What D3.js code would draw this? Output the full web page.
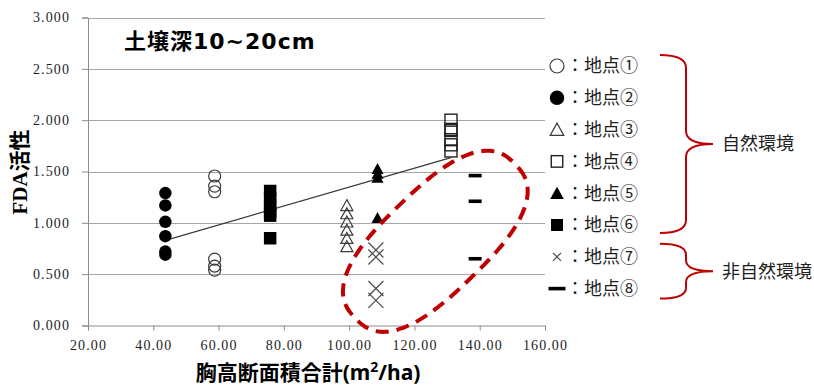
<!DOCTYPE html>
<html>
<head>
<meta charset="utf-8">
<script src="https://cdn.jsdelivr.net/npm/d3@7"></script>
<style>
  body { margin: 0; background: #fff; }
  svg { display: block; }
</style>
</head>
<body>
<div id="chart"></div>
<script>
// data
const sites = ["地点①", "地点②", "地点③", "地点④", "地点⑤", "地点⑥", "地点⑦", "地点⑧"];
const siteMarker = ["circleOpen", "circle", "triangleOpen", "squareOpen", "triangle", "square", "cross", "dash"];
const siteBasal = [58.8, 43.7, 99.3, 131.2, 108.7, 75.8, 108.2, 138.6];
const siteFDA = [
  [1.456, 1.358, 1.303, 0.647, 0.579, 0.540],
  [1.29, 1.17, 1.01, 0.87, 0.72, 0.69],
  [1.17, 1.09, 1.01, 0.93, 0.85, 0.77],
  [2.00, 1.91, 1.90, 1.81, 1.76, 1.70],
  [1.526, 1.48, 1.44, 1.05],
  [1.31, 1.24, 1.17, 1.11, 1.07, 0.85],
  [0.735, 0.667, 0.36, 0.245],
  [1.46, 1.21, 0.65]
];
const trendX = [43.7, 131.2];
const trendY = [0.83, 1.635];
const xTicks = [20, 40, 60, 80, 100, 120, 140, 160];
const yTicks = [0, 0.5, 1, 1.5, 2, 2.5, 3];
const groupLabels = ["自然環境", "非自然環境"];
const groupRange = [[0, 5], [6, 7]];
const circledCenter = [126.4, 0.82];   // centre of the red dashed loop (data units)

const width = 814, height = 386;
const plot = {left: 88, right: 545, top: 17.5, bottom: 325.5};
const red = "#c00000";

const svg = d3.select("#chart").append("svg")
    .attr("width", width)
    .attr("height", height);

const x = d3.scaleLinear().domain([20, 160]).range([plot.left, plot.right]);
const y = d3.scaleLinear().domain([0, 3]).range([plot.bottom, plot.top]);

// gridlines
svg.append("g")
  .selectAll("line")
  .data(yTicks.filter(d => d > 0))
  .enter().append("line")
    .attr("x1", plot.left).attr("x2", plot.right)
    .attr("y1", d => Math.round(y(d)) + 0.5).attr("y2", d => Math.round(y(d)) + 0.5)
    .attr("stroke", "#a6a6a6")
    .attr("stroke-width", 1);

// axes
const xAxis = g => g
  .attr("transform", `translate(0,${plot.bottom})`)
  .call(d3.axisBottom(x).tickValues(xTicks).tickFormat(d3.format(".2f")).tickSize(5).tickPadding(10))
  .call(g => g.selectAll("line, path").attr("stroke", "#8c8c8c"))
  .call(g => g.selectAll("text")
      .style("font-family", "'Liberation Serif', serif")
      .style("font-size", "14px")
      .style("letter-spacing", "1.1px")
      .attr("fill", "#1e1e1e"));

const yAxis = g => g
  .attr("transform", `translate(${plot.left},0)`)
  .call(d3.axisLeft(y).tickValues(yTicks).tickFormat(d3.format(".3f")).tickSize(6).tickPadding(12))
  .call(g => g.selectAll("line, path").attr("stroke", "#8c8c8c"))
  .call(g => g.selectAll("text")
      .style("font-family", "'Liberation Serif', serif")
      .style("font-size", "14px")
      .style("letter-spacing", "1.1px")
      .attr("fill", "#1e1e1e"));

svg.append("g").call(xAxis);
svg.append("g").call(yAxis);

// trend line
svg.append("line")
  .attr("x1", x(trendX[0])).attr("y1", y(trendY[0]))
  .attr("x2", x(trendX[1])).attr("y2", y(trendY[1]))
  .attr("stroke", "#3a3a3a")
  .attr("stroke-width", 1.3);

function drawMarker(g, type, s) {
  const h = s / 2;
  switch (type) {
    case "circleOpen":
      g.append("circle").attr("r", h).attr("fill", "none").attr("stroke", "#3c3c3c").attr("stroke-width", 1.2);
      break;
    case "circle":
      g.append("circle").attr("r", h).attr("fill", "#000");
      break;
    case "triangleOpen":
      g.append("path").attr("d", `M0,${-h}L${h * 1.05},${h * 0.9}L${-h * 1.05},${h * 0.9}Z`)
        .attr("fill", "none").attr("stroke", "#3c3c3c").attr("stroke-width", 1.2);
      break;
    case "triangle":
      g.append("path").attr("d", `M0,${-h}L${h * 1.05},${h * 0.9}L${-h * 1.05},${h * 0.9}Z`).attr("fill", "#000");
      break;
    case "squareOpen":
      g.append("rect").attr("x", -h).attr("y", -h).attr("width", s).attr("height", s)
        .attr("fill", "none").attr("stroke", "#222").attr("stroke-width", 1.4);
      break;
    case "square":
      g.append("rect").attr("x", -h).attr("y", -h).attr("width", s).attr("height", s).attr("fill", "#000");
      break;
    case "cross":
      g.append("path").attr("d", `M${-h},${-h}L${h},${h}M${h},${-h}L${-h},${h}`)
        .attr("stroke", "#4a4a4a").attr("stroke-width", 1.2).attr("fill", "none");
      break;
    case "dash":
      g.append("rect").attr("x", -h).attr("y", -1.8).attr("width", s).attr("height", 3.6).attr("fill", "#000");
      break;
  }
}

const markerSize = {circleOpen: 12, circle: 12.5, triangleOpen: 11.5, triangle: 11.5,
                    squareOpen: 12, square: 12.5, cross: 15, dash: 13};

// points
const points = [];
sites.forEach((s, i) => siteFDA[i].forEach(v => points.push({site: i, x: siteBasal[i], y: v})));

svg.append("g")
  .selectAll("g")
  .data(points)
  .enter().append("g")
    .attr("transform", d => `translate(${x(d.x)},${y(d.y)})`)
    .each(function(d) {
      const t = siteMarker[d.site];
      drawMarker(d3.select(this), t, markerSize[t]);
    });

// red dashed loop around the non-natural sites
const cx = x(circledCenter[0]), cy = y(circledCenter[1]);
const loop = d3.range(0, 360, 3).map(a => {
  const t = a * Math.PI / 180, n = 2.6;
  const c = Math.cos(t), s = Math.sin(t);
  return [111 * Math.sign(c) * Math.pow(Math.abs(c), 2 / n), 51 * Math.sign(s) * Math.pow(Math.abs(s), 2 / n)];
});
svg.append("path")
  .attr("d", d3.line().curve(d3.curveCardinalClosed)(loop))
  .attr("transform", `translate(${cx},${cy}) rotate(-44)`)
  .attr("fill", "none")
  .attr("stroke", red)
  .attr("stroke-width", 4)
  .attr("stroke-dasharray", "13,8");

// title
svg.append("text")
  .attr("x", 124)
  .attr("y", 49)
  .style("font-family", "'DejaVu Sans', 'Noto Sans CJK JP', sans-serif")
  .style("font-weight", "bold")
  .style("font-size", "22px")
  .style("letter-spacing", "1px")
  .attr("fill", "#000")
  .text("土壌深10~20cm");

// axis titles
const xt = svg.append("text")
  .attr("x", 308)
  .attr("y", 380)
  .attr("text-anchor", "middle")
  .style("font-family", "'Noto Sans', 'Noto Sans CJK JP', sans-serif")
  .style("font-weight", "bold")
  .style("font-size", "21px")
  .attr("fill", "#000");
xt.append("tspan").text("胸高断面積合計(m");
xt.append("tspan").attr("dy", -8).style("font-size", "14px").text("2");
xt.append("tspan").attr("dy", 8).text("/ha)");

svg.append("text")
  .attr("transform", "translate(27,172) rotate(-90)")
  .attr("text-anchor", "middle")
  .style("font-family", "'Liberation Serif', 'Noto Sans CJK JP', serif")
  .style("font-weight", "bold")
  .style("font-size", "21px")
  .attr("fill", "#000")
  .text("FDA活性");

// legend
const legendY0 = 66, legendStep = 31.8, legendX = 557;
const legend = svg.append("g")
  .selectAll("g")
  .data(sites)
  .enter().append("g")
    .attr("transform", (d, i) => `translate(${legendX},${legendY0 + i * legendStep})`);

const legendSize = {circleOpen: 14, circle: 14.5, triangleOpen: 13, triangle: 13,
                    squareOpen: 11.5, square: 12, cross: 8, dash: 17};
legend.each(function(d, i) {
  const t = siteMarker[i];
  drawMarker(d3.select(this), t, legendSize[t]);
});
legend.append("text")
  .attr("x", 9)
  .attr("dy", "0.36em")
  .style("font-family", "'Noto Sans CJK JP', sans-serif")
  .style("font-size", "18px")
  .attr("fill", "#1e1e1e")
  .text(d => "：" + d);

// group braces
const braceX = 660, braceMid = 686, braceTip = 713;
const bracePad = [11, 8];
groupRange.forEach((r, k) => {
  const top = legendY0 + r[0] * legendStep - bracePad[0] - k * 2;
  const bot = legendY0 + r[1] * legendStep + bracePad[1] + k * 2;
  const mid = (top + bot) / 2;
  const c = Math.min(13, (bot - top) / 5);
  const p = d3.path();
  p.moveTo(braceX, top);
  p.quadraticCurveTo(braceMid, top, braceMid, top + c);
  p.lineTo(braceMid, mid - c);
  p.quadraticCurveTo(braceMid, mid, braceTip, mid);
  p.quadraticCurveTo(braceMid, mid, braceMid, mid + c);
  p.lineTo(braceMid, bot - c);
  p.quadraticCurveTo(braceMid, bot, braceX, bot);
  svg.append("path")
    .attr("d", p.toString())
    .attr("fill", "none")
    .attr("stroke", red)
    .attr("stroke-width", 2);
  svg.append("text")
    .attr("x", 722)
    .attr("y", mid)
    .attr("dy", "0.36em")
    .style("font-family", "'Noto Sans CJK JP', sans-serif")
    .style("font-size", "18px")
    .attr("fill", "#1e1e1e")
    .text(groupLabels[k]);
});
</script>
</body>
</html>
